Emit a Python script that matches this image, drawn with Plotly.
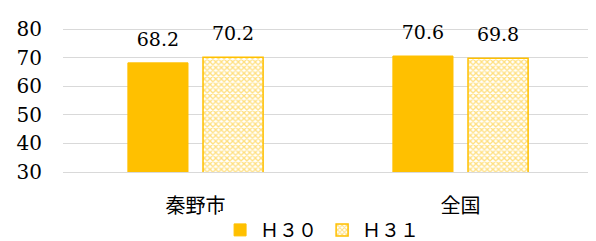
import plotly.graph_objects as go

categories = ["秦野市", "全国"]
h30_values = [68.2, 70.6]
h31_values = [70.2, 69.8]
series_names = ["Ｈ３０", "Ｈ３１"]
y_ticks = [30, 40, 50, 60, 70, 80]

gold = "#FFC000"
serif = "DejaVu Serif"
cjk = "Noto Sans CJK JP"

fig = go.Figure()
fig.add_trace(go.Bar(
    x=categories, y=h30_values, name=series_names[0], offsetgroup="a",
    marker=dict(color=gold, line=dict(color=gold, width=1)),
))
fig.add_trace(go.Bar(
    x=categories, y=h31_values, name=series_names[1], offsetgroup="b",
    marker=dict(color="white", line=dict(color=gold, width=1.5),
                pattern=dict(shape="x", fgcolor=gold, bgcolor="white", size=4, solidity=0.55)),
))
for vals, grp in [(h30_values, "a"), (h31_values, "b")]:
    fig.add_trace(go.Scatter(
        x=categories, y=vals, mode="markers+text", offsetgroup=grp,
        text=[f"{v:.1f}" for v in vals], textposition="top center",
        textfont=dict(family=serif, size=19, color="#000000"),
        marker=dict(size=18, color="rgba(0,0,0,0)"),
        showlegend=False, hoverinfo="skip", cliponaxis=False,
    ))

fig.update_layout(
    width=588, height=233,
    margin=dict(l=55, r=3, t=20, b=69, autoexpand=False),
    paper_bgcolor="white", plot_bgcolor="white",
    barmode="group", bargap=0.433, bargroupgap=0.2,
    scattermode="group", scattergap=0.433,
    showlegend=True,
    legend=dict(orientation="h", x=0.535, xref="container", xanchor="center",
                y=0.047, yref="container", yanchor="middle",
                font=dict(family=cjk, size=19, color="#000000"),
                itemwidth=30, tracegroupgap=0),
    xaxis=dict(showgrid=False, showline=True, linecolor="#D9D9D9", linewidth=1.3, ticks="",
               ticklabelstandoff=16,
               tickfont=dict(family=cjk, size=20, color="#000000")),
    yaxis=dict(range=[30, 80.4], tickvals=y_ticks, showgrid=True, gridcolor="#D9D9D9",
               gridwidth=1.3, zeroline=False, showline=False, ticks="",
               ticklabelstandoff=20,
               tickfont=dict(family=serif, size=20, color="#000000")),
)
fig.write_html("out.html")
